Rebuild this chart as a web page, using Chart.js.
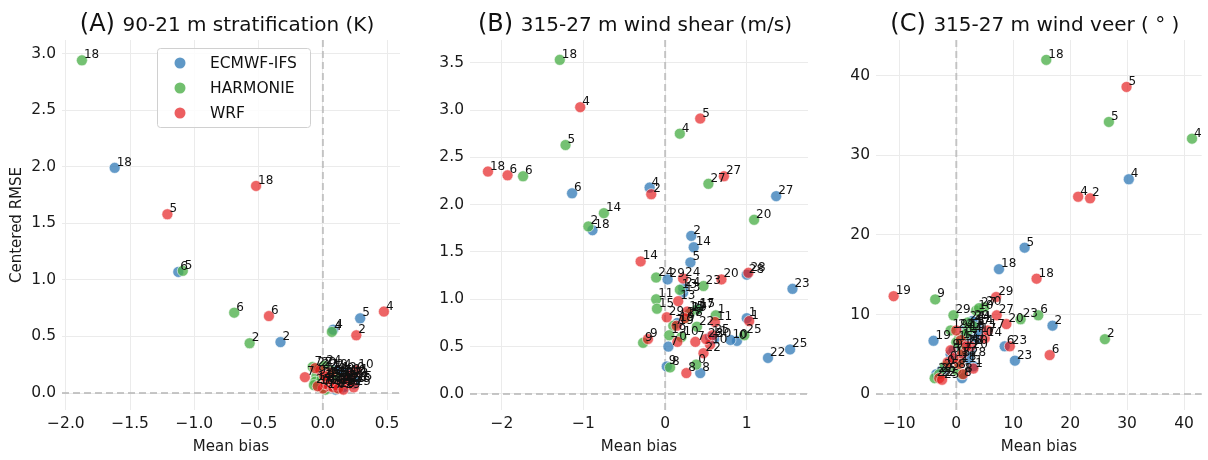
<!DOCTYPE html>
<html>
<head>
<meta charset="utf-8">
<script src="https://cdn.jsdelivr.net/npm/chart.js@4.4.0/dist/chart.umd.min.js"></script>
<style>
  body { margin: 0; background: #fff; width: 1208px; height: 460px; overflow: hidden; position: relative; }
  .panel { position: absolute; top: 0; }
</style>
</head>
<body>
<div class="panel" style="left:0"><canvas id="stratChart" width="410" height="460"></canvas></div>
<div class="panel" style="left:410px"><canvas id="shearChart" width="405" height="460"></canvas></div>
<div class="panel" style="left:815px"><canvas id="veerChart" width="393" height="460"></canvas></div>
<script>
// case numbers used as point labels (same order in every array below)
const caseIds = [0, 1, 2, 4, 5, 6, 7, 8, 9, 10, 11, 13, 14, 15, 17, 18, 19, 20, 22, 23, 24, 25, 27, 28, 29];
const modelNames = ['ECMWF-IFS', 'HARMONIE', 'WRF'];

// (A) 90-21 m stratification
const stratBiasECMWF = [0.10, 0.15, -0.33, 0.08, 0.29, -1.125, 0.12, 0.18, 0.05, 0.20, 0.14, 0.22, 0.08, 0.24, 0.16, -1.62, 0.11, 0.19, 0.06, 0.13, 0.09, 0.25, 0.17, 0.21, 0.07];
const stratRmseECMWF = [0.03, 0.10, 0.45, 0.56, 0.66, 1.07, 0.08, 0.06, 0.12, 0.15, 0.14, 0.12, 0.09, 0.08, 0.05, 1.99, 0.17, 0.18, 0.06, 0.11, 0.20, 0.10, 0.13, 0.09, 0.15];
const stratBiasHARM = [-0.02, 0.03, -0.57, 0.07, -1.09, -0.69, -0.08, 0.05, -0.05, 0.10, 0.00, 0.08, -0.06, 0.12, 0.02, -1.875, 0.06, -0.03, 0.09, 0.04, 0.01, 0.13, -0.07, 0.11, -0.01];
const stratRmseHARM = [0.05, 0.10, 0.44, 0.54, 1.08, 0.71, 0.23, 0.06, 0.15, 0.12, 0.18, 0.09, 0.10, 0.07, 0.03, 2.94, 0.20, 0.22, 0.15, 0.13, 0.24, 0.10, 0.07, 0.04, 0.12];
const stratBiasWRF = [0.00, 0.05, 0.26, 0.475, -1.21, -0.42, -0.14, 0.02, 0.08, 0.26, 0.22, 0.18, 0.03, 0.10, 0.15, -0.52, -0.04, 0.20, -0.02, 0.12, 0.06, 0.24, -0.06, 0.01, 0.16];
const stratRmseWRF = [0.04, 0.06, 0.51, 0.72, 1.58, 0.68, 0.14, 0.08, 0.05, 0.20, 0.16, 0.12, 0.12, 0.07, 0.09, 1.83, 0.06, 0.08, 0.20, 0.04, 0.18, 0.05, 0.22, 0.15, 0.03];

// (B) 315-27 m wind shear
const shearBiasECMWF = [0.88, 1.00, 0.32, -0.19, 0.31, -1.14, 0.04, 0.43, 0.02, 0.80, 0.55, 0.22, 0.35, 0.40, 0.30, -0.89, 0.15, 0.60, 1.26, 1.56, 0.22, 1.53, 1.36, 1.00, 0.03];
const shearRmseECMWF = [0.56, 0.80, 1.67, 2.18, 1.39, 2.12, 0.50, 0.22, 0.29, 0.57, 0.60, 1.07, 1.55, 0.90, 0.85, 1.73, 0.75, 0.58, 0.38, 1.11, 1.12, 0.47, 2.09, 1.26, 1.21];
const shearBiasHARM = [0.38, 0.62, -0.94, 0.18, -1.22, -1.74, 0.10, 0.06, -0.27, 0.20, -0.11, 0.18, -0.75, -0.10, 0.39, -1.29, 0.05, 1.09, 0.39, 0.47, -0.11, 0.97, 0.53, 0.25, 0.30];
const shearRmseHARM = [0.31, 0.83, 1.77, 2.75, 2.63, 2.30, 0.72, 0.28, 0.54, 0.60, 1.00, 1.10, 1.91, 0.90, 0.89, 3.53, 0.62, 1.84, 0.71, 1.14, 1.23, 0.62, 2.22, 0.80, 0.85];
const shearBiasWRF = [0.15, 1.03, -0.17, -1.04, 0.43, -1.93, 0.37, 0.26, -0.21, 0.55, 0.61, 0.16, -0.30, 0.27, 0.24, -2.17, 0.14, 0.69, 0.47, 0.50, 0.22, 0.58, 0.72, 1.02, 0.02];
const shearRmseWRF = [0.55, 0.77, 2.11, 3.03, 2.91, 2.31, 0.55, 0.22, 0.58, 0.52, 0.76, 0.98, 1.40, 0.87, 0.80, 2.35, 0.72, 1.21, 0.43, 0.58, 1.22, 0.62, 2.30, 1.28, 0.81];

// (C) 315-27 m wind veer
const veerBiasECMWF = [-1.0, 3.0, 16.9, 30.3, 12.0, 8.5, 2.0, 1.0, -0.5, 3.5, 0.5, 2.0, 3.5, 1.5, 4.0, 7.5, -4.0, 2.5, -3.5, 10.3, 3.0, -2.5, 1.5, 2.2, 2.8];
const veerRmseECMWF = [5.0, 3.5, 8.6, 27.0, 18.4, 6.0, 6.5, 2.0, 5.5, 7.0, 4.5, 7.8, 8.5, 6.0, 7.5, 15.7, 6.7, 5.5, 2.5, 4.2, 9.0, 3.0, 8.0, 4.5, 9.2];
const veerBiasHARM = [-2.0, 1.0, 26.1, 41.4, 26.8, 14.4, 0.5, 0.0, -3.7, 3.5, 1.0, 2.0, 1.5, 0.0, 3.0, 15.8, -1.0, 4.9, -3.8, 11.3, 2.0, -3.0, 4.0, 0.5, -0.5];
const veerRmseHARM = [3.5, 2.5, 6.9, 32.1, 34.2, 9.9, 7.0, 3.0, 11.9, 10.5, 5.5, 8.0, 7.5, 6.5, 8.5, 42.0, 8.0, 10.9, 2.0, 9.4, 9.0, 2.5, 10.8, 4.0, 9.9];
const veerBiasWRF = [-1.5, 3.0, 23.5, 21.4, 29.9, 16.4, 1.0, 1.2, -1.0, 2.5, 0.5, 0.8, 5.0, -0.5, 5.5, 14.1, -11.0, 8.8, -3.0, 9.4, 0.0, -2.5, 7.1, 1.8, 7.0];
const veerRmseWRF = [4.0, 3.2, 24.6, 24.8, 38.6, 4.9, 5.0, 2.5, 5.5, 6.0, 3.8, 6.8, 7.0, 4.5, 8.0, 14.5, 12.3, 8.8, 2.0, 6.0, 8.0, 1.8, 9.9, 6.0, 12.2];

// tick values
const stratXTicks = [-2.0, -1.5, -1.0, -0.5, 0.0, 0.5];
const stratYTicks = [0.0, 0.5, 1.0, 1.5, 2.0, 2.5, 3.0];
const shearXTicks = [-2, -1, 0, 1];
const shearYTicks = [0.0, 0.5, 1.0, 1.5, 2.0, 2.5, 3.0, 3.5];
const veerXTicks = [-10, 0, 10, 20, 30, 40];
const veerYTicks = [0, 10, 20, 30, 40];

const FONT = "'DejaVu Sans', sans-serif";
const colors = ['rgba(55,126,184,0.78)', 'rgba(77,175,74,0.78)', 'rgba(228,26,28,0.68)'];
const legendColors = ['rgba(55,126,184,0.8)', 'rgba(77,175,74,0.8)', 'rgba(228,26,28,0.7)'];

function pts(bias, rmse) {
  return caseIds.map((id, i) => ({ x: bias[i], y: rmse[i], id: id }));
}

function fmt(dec) {
  return v => Number(v).toFixed(dec).replace('-', '\u2212');
}

// dashed zero lines
const zeroLines = {
  id: 'zeroLines',
  beforeDatasetsDraw(chart) {
    const { ctx, chartArea: a, scales: { x, y } } = chart;
    ctx.save();
    ctx.strokeStyle = 'rgba(185,185,185,0.8)';
    ctx.lineWidth = 2;
    ctx.setLineDash([7, 4]);
    const px = x.getPixelForValue(0);
    ctx.beginPath(); ctx.moveTo(px, a.top); ctx.lineTo(px, a.bottom); ctx.stroke();
    const py = y.getPixelForValue(0);
    ctx.beginPath(); ctx.moveTo(a.left, py); ctx.lineTo(a.right, py); ctx.stroke();
    ctx.restore();
  }
};

// case number next to every point
const caseLabels = {
  id: 'caseLabels',
  afterDatasetsDraw(chart) {
    const ctx = chart.ctx;
    ctx.save();
    ctx.font = '12px ' + FONT;
    ctx.fillStyle = '#111';
    ctx.textAlign = 'left';
    ctx.textBaseline = 'alphabetic';
    chart.data.datasets.forEach((ds, di) => {
      chart.getDatasetMeta(di).data.forEach((el, i) => {
        ctx.fillText(String(ds.data[i].id), el.x + 2, el.y - 2);
      });
    });
    ctx.restore();
  }
};

// "(A) title" with a bigger letter part
const panelTitle = {
  id: 'panelTitle',
  afterDraw(chart, args, opts) {
    const ctx = chart.ctx;
    const a = chart.chartArea;
    ctx.save();
    ctx.fillStyle = '#111';
    ctx.textBaseline = 'alphabetic';
    const big = '24px ' + FONT, small = '20px ' + FONT;
    ctx.font = big;
    const w1 = ctx.measureText(opts.tag + ' ').width;
    ctx.font = small;
    const w2 = ctx.measureText(opts.text).width;
    const x0 = (a.left + a.right) / 2 - (w1 + w2) / 2 - 4;
    ctx.font = big;
    ctx.fillText(opts.tag, x0, 31);
    ctx.font = small;
    ctx.fillText(opts.text, x0 + w1, 31);
    ctx.restore();
  }
};

// legend box inside panel A
const boxLegend = {
  id: 'boxLegend',
  afterDraw(chart, args, opts) {
    if (!opts.show) return;
    const ctx = chart.ctx;
    ctx.save();
    ctx.fillStyle = 'rgba(255,255,255,0.85)';
    ctx.strokeStyle = '#d0d0d0';
    ctx.lineWidth = 1;
    ctx.beginPath();
    ctx.roundRect(157.5, 48.5, 153, 79, 3);
    ctx.fill(); ctx.stroke();
    ctx.font = '15.5px ' + FONT;
    ctx.textBaseline = 'middle';
    modelNames.forEach((name, i) => {
      const y = 63 + i * 25;
      ctx.fillStyle = legendColors[i];
      ctx.beginPath(); ctx.arc(180, y, 5.5, 0, Math.PI * 2); ctx.fill();
      ctx.fillStyle = '#111';
      ctx.fillText(name, 210, y + 1);
    });
    ctx.restore();
  }
};

function makePanel(id, p) {
  const sets = [
    { label: modelNames[0], data: pts(p.bias[0], p.rmse[0]), order: 3 },
    { label: modelNames[1], data: pts(p.bias[1], p.rmse[1]), order: 2 },
    { label: modelNames[2], data: pts(p.bias[2], p.rmse[2]), order: 1 }
  ];
  sets.forEach((s, i) => {
    s.backgroundColor = colors[i];
    s.borderColor = 'rgba(255,255,255,0.7)';
    s.borderWidth = 0.8;
    s.pointRadius = 5.5;
  });
  const tickFont = { family: FONT, size: 15.5 };
  return new Chart(document.getElementById(id), {
    type: 'scatter',
    data: { datasets: sets },
    options: {
      responsive: false,
      animation: false,
      layout: { padding: { top: 40, right: p.padRight, left: 0, bottom: 0 } },
      plugins: {
        legend: { display: false },
        tooltip: { enabled: false },
        panelTitle: { tag: p.tag, text: p.title },
        boxLegend: { show: !!p.legend }
      },
      scales: {
        x: {
          type: 'linear', min: p.xMin, max: p.xMax,
          afterBuildTicks: s => { s.ticks = p.xTicks.map(v => ({ value: v })); },
          afterFit: s => { s.height = 50; },
          grid: { color: '#ebebeb', lineWidth: 1, drawTicks: false },
          border: { display: false },
          ticks: { font: tickFont, color: '#1a1a1a', padding: 5, maxRotation: 0, callback: fmt(p.xDec) },
          title: { display: true, text: 'Mean bias', font: { family: FONT, size: 15 }, color: '#1a1a1a', padding: { top: 0, bottom: 4 } }
        },
        y: {
          type: 'linear', min: p.yMin, max: p.yMax,
          afterBuildTicks: s => { s.ticks = p.yTicks.map(v => ({ value: v })); },
          afterFit: s => { s.width = p.yWidth; },
          grid: { color: '#ebebeb', lineWidth: 1, drawTicks: false },
          border: { display: false },
          ticks: { font: tickFont, color: '#1a1a1a', padding: 6, callback: fmt(p.yDec) },
          title: { display: !!p.yTitle, text: p.yTitle || '', font: { family: FONT, size: 15 }, color: '#1a1a1a', padding: { top: 8, bottom: 0 } }
        }
      }
    },
    plugins: [zeroLines, caseLabels, panelTitle, boxLegend]
  });
}

makePanel('stratChart', {
  tag: '(A)', title: '90-21 m stratification (K)', legend: true, yTitle: 'Centered RMSE',
  bias: [stratBiasECMWF, stratBiasHARM, stratBiasWRF],
  rmse: [stratRmseECMWF, stratRmseHARM, stratRmseWRF],
  xMin: -2.03, xMax: 0.60, yMin: -0.15, yMax: 3.12,
  xTicks: stratXTicks, yTicks: stratYTicks, xDec: 1, yDec: 1,
  yWidth: 62, padRight: 10
});

makePanel('shearChart', {
  tag: '(B)', title: '315-27 m wind shear (m/s)',
  bias: [shearBiasECMWF, shearBiasHARM, shearBiasWRF],
  rmse: [shearRmseECMWF, shearRmseHARM, shearRmseWRF],
  xMin: -2.39, xMax: 1.75, yMin: -0.17, yMax: 3.74,
  xTicks: shearXTicks, yTicks: shearYTicks, xDec: 0, yDec: 1,
  yWidth: 60, padRight: 7
});

makePanel('veerChart', {
  tag: '(C)', title: '315-27 m wind veer ( \u00b0 )',
  bias: [veerBiasECMWF, veerBiasHARM, veerBiasWRF],
  rmse: [veerRmseECMWF, veerRmseHARM, veerRmseWRF],
  xMin: -14.1, xMax: 43.1, yMin: -2.0, yMax: 44.5,
  xTicks: veerXTicks, yTicks: veerYTicks, xDec: 0, yDec: 0,
  yWidth: 61, padRight: 3
});
</script>
</body>
</html>
